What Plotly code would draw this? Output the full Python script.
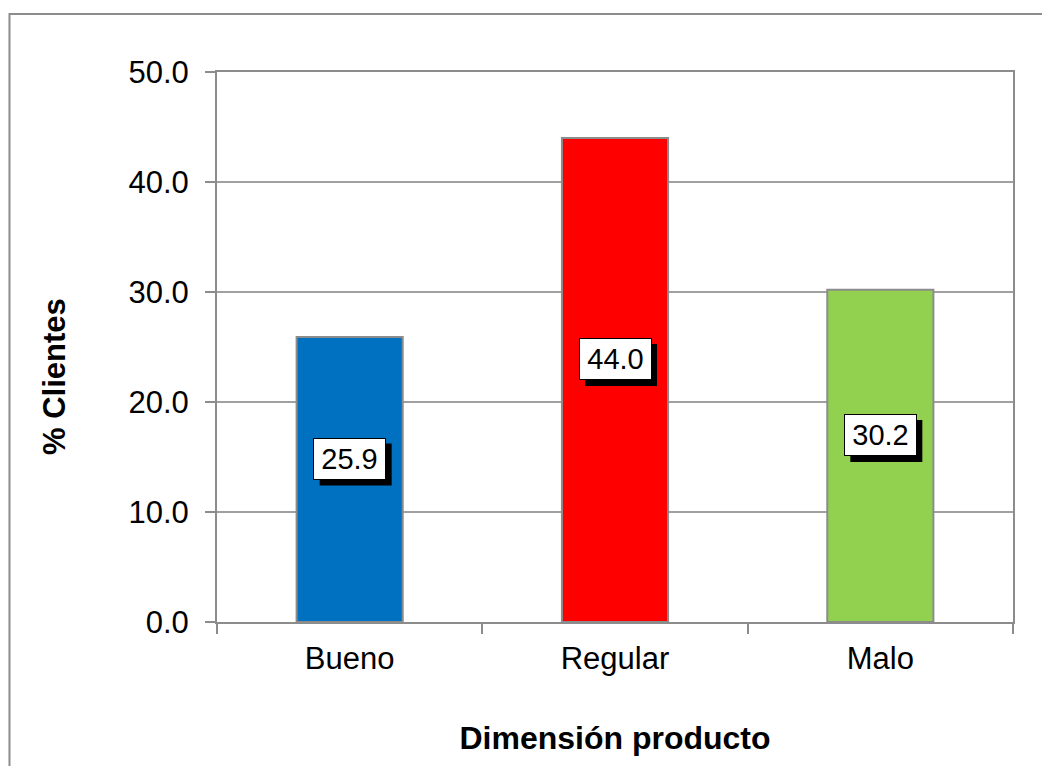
import plotly.graph_objects as go

categories = ["Bueno", "Regular", "Malo"]
values = [25.9, 44.0, 30.2]
colors = ["#0070C0", "#FF0000", "#92D050"]
y_ticks = [0, 10, 20, 30, 40, 50]
x_title = "Dimensión producto"
y_title = "% Clientes"

FONT = "Liberation Sans, Arial, sans-serif"
GRAY = "#8C8C8C"
LABEL_SHIFT = 21

fig = go.Figure()
fig.add_trace(go.Bar(
    x=categories, y=values,
    marker=dict(color=colors, line=dict(color=GRAY, width=2)),
    width=0.4,
    hoverinfo="skip",
))

annotations = []
shapes = [dict(
    type="rect", xref="paper", yref="paper",
    x0=-0.2607, x1=1.2, y0=-0.5, y1=1.1055,
    line=dict(color=GRAY, width=2), fillcolor="rgba(0,0,0,0)", layer="below",
)]
for i, (c, v) in enumerate(zip(categories, values)):
    txt = f"{v:.1f}"
    # drop shadow behind the label box
    shapes.append(dict(
        type="rect", xref="x", yref="y",
        xsizemode="pixel", ysizemode="pixel",
        xanchor=i, yanchor=v / 2,
        x0=-36 + 6, x1=36 + 6,
        y0=LABEL_SHIFT - 21 - 6, y1=LABEL_SHIFT + 21 - 6,
        fillcolor="black", line=dict(color="black", width=0), layer="above",
    ))
    annotations.append(dict(
        x=c, y=v / 2, xref="x", yref="y", text=txt, showarrow=False,
        font=dict(family=FONT, size=29, color="black"),
        bgcolor="white", bordercolor="black", borderwidth=1, borderpad=0,
        width=71, height=40, yshift=LABEL_SHIFT,
    ))

# y-axis title (Excel places it slightly below the plot's vertical centre)
annotations.append(dict(
    x=-0.2035, y=0.4455, xref="paper", yref="paper",
    text=f"<b>{y_title}</b>", textangle=-90, showarrow=False,
    xanchor="center", yanchor="middle",
    font=dict(family=FONT, size=31, color="black"),
))

fig.update_layout(
    width=1042, height=766,
    margin=dict(l=217, r=29, t=72, b=144),
    paper_bgcolor="white", plot_bgcolor="white",
    showlegend=False,
    font=dict(family=FONT, color="black"),
    annotations=annotations,
    shapes=shapes,
    bargap=0.6,
)

fig.update_xaxes(
    showline=True, linecolor=GRAY, linewidth=2, mirror=True,
    ticks="outside", ticklen=10, tickcolor=GRAY, tickwidth=2,
    tickson="boundaries", showgrid=False,
    tickfont=dict(family=FONT, size=31, color="black"),
    ticklabelstandoff=8,
    title=dict(text=f"<b>{x_title}</b>", font=dict(family=FONT, size=32, color="black"), standoff=51),
)
fig.update_yaxes(
    range=[0, 50], tickvals=y_ticks, tickformat=".1f",
    showline=True, linecolor=GRAY, linewidth=2, mirror=True,
    ticks="outside", ticklen=10, tickcolor=GRAY, tickwidth=2,
    showgrid=True, gridcolor="#A0A0A0", gridwidth=2,
    zeroline=False,
    tickfont=dict(family=FONT, size=31, color="black"),
    ticklabelstandoff=10,
)

fig.write_html("out.html")
